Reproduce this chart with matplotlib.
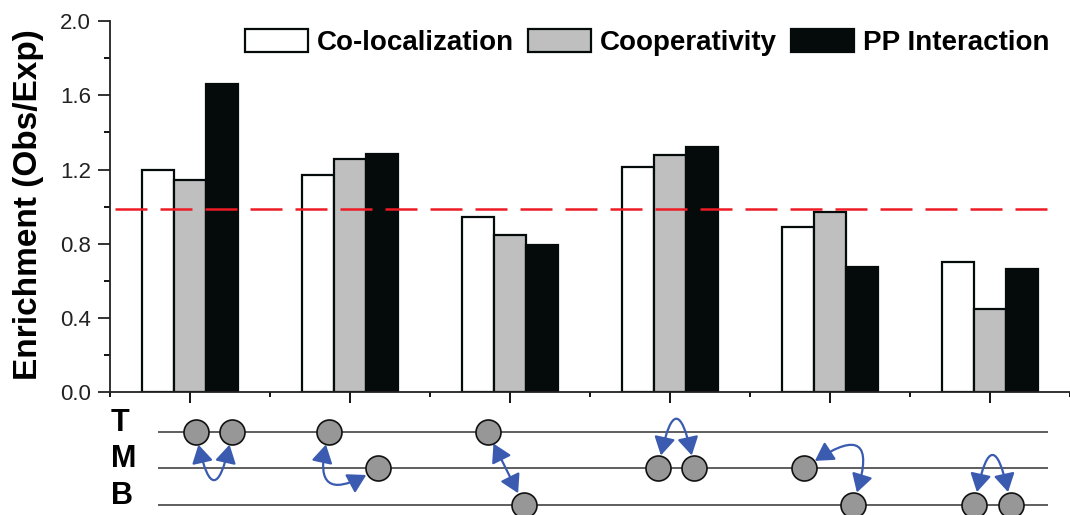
import numpy as np
import matplotlib
matplotlib.use('Agg')
import matplotlib.pyplot as plt
from matplotlib.patches import FancyArrowPatch, Patch

plt.rcParams['font.family'] = ['Liberation Sans', 'DejaVu Sans']

# enrichment values for the six motifs
series_names = ['Co-localization', 'Cooperativity', 'PP Interaction']
coloc = [1.20, 1.17, 0.945, 1.215, 0.893, 0.70]
coop = [1.143, 1.254, 0.845, 1.276, 0.970, 0.448]
ppi = [1.663, 1.281, 0.793, 1.32, 0.674, 0.662]
baseline = 0.99

y_ticks = [0.0, 0.4, 0.8, 1.2, 1.6, 2.0]
layer_names = ['B', 'M', 'T']

# motif sketch under each group: (layer, offset from group centre) for the two nodes,
# and how much the connecting arrow bends
motif_nodes = [
    [('T', 0.036), ('T', 0.264)],
    [('T', -0.13), ('M', 0.173)],
    [('T', -0.14), ('B', 0.0875)],
    [('M', -0.073), ('M', 0.152)],
    [('M', -0.1625), ('B', 0.142)],
    [('B', -0.098), ('B', 0.129)],
]
motif_bend = [2.6, 1.3, 0.0, -2.7, -1.6, -2.7]

W, H = 1070, 515
fig = plt.figure(figsize=(W / 100, H / 100), dpi=100)

# bar chart
ax = fig.add_axes([110 / W, (H - 392.3) / H, 960 / W, 371.3 / H])
x = np.arange(1, len(coloc) + 1)
colors = ['white', '#bfbfbf', '#050a0a']
for i, vals in enumerate([coloc, coop, ppi]):
    ax.bar(x + (i - 1) * 0.2, vals, width=0.2, color=colors[i], edgecolor='#050a0a',
           linewidth=1.6, label=series_names[i], zorder=2)

ax.axhline(baseline, xmin=0.005, xmax=0.984, color='#ed1c24', lw=1.8,
           dashes=(12.8, 5.2), zorder=5)

ax.set_xlim(0.5, 6.5)
ax.set_ylim(0, 2.0)
ax.set_yticks(y_ticks)
ax.set_yticklabels(['%.1f' % v for v in y_ticks])
ax.set_yticks(np.arange(0.2, 2.0, 0.4), minor=True)
ax.set_xticks(x)
ax.set_xticklabels([])
ax.set_xticks(np.arange(0.5, 6.6, 1.0), minor=True)
ax.tick_params(axis='y', which='major', direction='out', length=8.6, width=1.3,
               labelsize=16, pad=5, colors='#222222')
ax.tick_params(axis='y', which='minor', direction='out', length=4.3, width=1.3)
ax.tick_params(axis='x', which='major', direction='out', length=8, width=1.3)
ax.tick_params(axis='x', which='minor', direction='out', length=3.6, width=1.3)
for side in ['top', 'right']:
    ax.spines[side].set_visible(False)
for side in ['left', 'bottom']:
    ax.spines[side].set_linewidth(1.3)
    ax.spines[side].set_color('#222222')

ax.set_ylabel('Enrichment (Obs/Exp)', fontsize=24, fontweight='bold')
ax.yaxis.set_label_coords(-0.069, 0.505)

# legend, handle sizes given in pixels / (pixels per em)
em = 20 * 100 / 72
handles = [Patch(facecolor=c, edgecolor='#050a0a', linewidth=1.6) for c in colors]
fig.legend(handles, series_names, loc='upper left', bbox_to_anchor=(245 / W, 1 - 29 / H),
           ncol=3, frameon=False, prop={'size': 20, 'weight': 'bold'},
           handlelength=63 / em, handleheight=25 / em, handletextpad=9 / em,
           columnspacing=14 / em, borderpad=0, borderaxespad=0)

# motif sketch below the axis
dax = fig.add_axes([110 / W, 0, 960 / W, 110 / H])
dax.set_xlim(0.5, 6.5)
dax.set_ylim(-10 / 36.65, 100 / 36.65)
dax.axis('off')
for lev, name in enumerate(layer_names):
    dax.hlines(lev, 0.8, 6.3625, color='#333333', lw=1.1, zorder=1)
    dax.text(0.505, lev + 0.25, name, fontsize=22, fontweight='bold', ha='left', va='center')

for g, nodes in enumerate(motif_nodes):
    pts = [(g + 1 + off, layer_names.index(lay)) for lay, off in nodes]
    xs = [p[0] for p in pts]
    ys = [p[1] for p in pts]
    dax.scatter(xs, ys, s=324, color='#979797', edgecolor='#111111', linewidth=1.2,
                zorder=4, clip_on=False)
    arr = FancyArrowPatch(pts[0], pts[1],
                          arrowstyle='<|-|>,head_length=0.55,head_width=0.32',
                          mutation_scale=20, color='#3a5bb0', lw=1.6,
                          connectionstyle='arc3,rad=%.2f' % motif_bend[g],
                          shrinkA=9.5, shrinkB=9.5, zorder=3)
    dax.add_patch(arr)

fig.savefig('out.png', dpi=100)
